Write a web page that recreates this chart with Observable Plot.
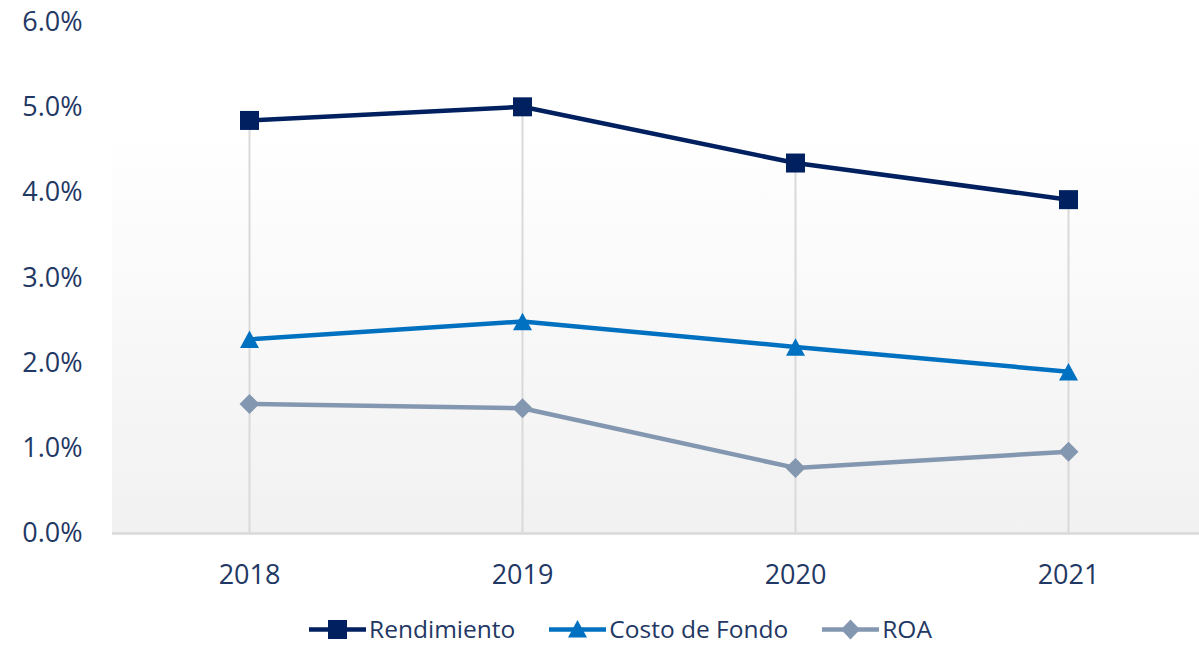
<!DOCTYPE html>
<html>
<head>
<meta charset="utf-8">
<script src="https://cdn.jsdelivr.net/npm/d3@7"></script>
<script src="https://cdn.jsdelivr.net/npm/@observablehq/plot@0.6"></script>
<style>
  html, body { margin: 0; padding: 0; background: #fff; overflow: hidden; }
  #chart { width: 1199px; height: 612px; overflow: hidden; }
  #chart svg { display: block; }
  .legend { display: flex; justify-content: center; align-items: center; height: 34px; line-height: 34px; margin-top: 0; margin-left: 42px;
            font-family: "Open Sans", sans-serif; font-size: 24.5px; color: #1f3864; }
  .legend .item { display: flex; align-items: center; margin: 0 17px; }
  .legend svg { margin-right: 3px; }
</style>
</head>
<body>
<div id="chart"></div>
<script>
const years = ["2018", "2019", "2020", "2021"];
const seriesNames = ["Rendimiento", "Costo de Fondo", "ROA"];
const rendimiento = [4.85, 5.01, 4.35, 3.92];
const costoFondo = [2.28, 2.49, 2.19, 1.90];
const roa = [1.52, 1.47, 0.77, 0.96];
const yTicks = [0, 1, 2, 3, 4, 5, 6];
const colors = ["#002060", "#0070C0", "#8497B0"];
const plotAreaTop = 4.73;

const valuesBySeries = [rendimiento, costoFondo, roa];
const data = [];
seriesNames.forEach((s, i) => years.forEach((y, j) => data.push({series: s, year: y, value: valuesBySeries[i][j]})));
const drops = years.map((y, j) => ({year: y, top: d3.max(valuesBySeries, v => v[j])}));

const squareSym = {draw(ctx) { const s = 9.5; ctx.rect(-s, -s, 2 * s, 2 * s); }};
const triSym = {draw(ctx) { const w = 9.5, h = 8.8; ctx.moveTo(0, -h); ctx.lineTo(w, h); ctx.lineTo(-w, h); ctx.closePath(); }};
const diaSym = {draw(ctx) { const s = 10; ctx.moveTo(0, -s); ctx.lineTo(s, 0); ctx.lineTo(0, s); ctx.lineTo(-s, 0); ctx.closePath(); }};
const symbols = [squareSym, triSym, diaSym];

function background(index, scales, values, dimensions) {
  const ns = "http://www.w3.org/2000/svg";
  const g = document.createElementNS(ns, "g");
  const defs = document.createElementNS(ns, "defs");
  defs.innerHTML = '<linearGradient id="bgGrad" x1="0" y1="0" x2="0" y2="1">' +
    '<stop offset="0" stop-color="#ffffff"/><stop offset="1" stop-color="#f1f1f1"/></linearGradient>';
  g.appendChild(defs);
  const r = document.createElementNS(ns, "rect");
  const yTop = scales.y(plotAreaTop), yBot = scales.y(0);
  r.setAttribute("x", dimensions.marginLeft);
  r.setAttribute("width", dimensions.width - dimensions.marginLeft - dimensions.marginRight);
  r.setAttribute("y", yTop);
  r.setAttribute("height", yBot - yTop);
  r.setAttribute("fill", "url(#bgGrad)");
  g.appendChild(r);
  return g;
}

const chart = Plot.plot({
  width: 1199,
  height: 612,
  marginLeft: 112,
  marginRight: -5,
  marginTop: 22,
  marginBottom: 79,
  style: {fontFamily: "'Open Sans', sans-serif", color: "#1f3864", background: "#fff", overflow: "hidden"},
  x: {type: "point", domain: years, padding: 0.5, label: null},
  y: {domain: [0, 6], label: null},
  color: {domain: seriesNames, range: colors},
  marks: [
    background,
    Plot.ruleX(drops, {x: "year", y1: 0, y2: "top", stroke: "#d9d9d9", strokeWidth: 2}),
    Plot.ruleY([0], {stroke: "#d9d9d9", strokeWidth: 2.5}),
    Plot.axisY({ticks: yTicks, tickSize: 0, tickPadding: 30, tickFormat: d => d.toFixed(1) + "%", fontSize: 27, fill: "#1f3864"}),
    Plot.axisX({tickSize: 0, tickPadding: 31, fontSize: 27, fill: "#1f3864"}),
    ...seriesNames.map((s, i) => Plot.line(data.filter(d => d.series === s), {x: "year", y: "value", stroke: colors[i], strokeWidth: 4.5})),
    ...seriesNames.map((s, i) => Plot.dot(data.filter(d => d.series === s), {x: "year", y: "value", fill: colors[i], stroke: "none", symbol: symbols[i], r: 9}))
  ]
});
document.getElementById("chart").appendChild(chart);

// Legend
const legend = document.createElement("div");
legend.className = "legend";
const legendPaths = [
  '<rect x="19" y="1" width="19" height="19" fill="C"/>',
  '<path d="M28.5 1 L38 18.6 L19 18.6 Z" fill="C"/>',
  '<path d="M28.5 0.5 L38 10.5 L28.5 20.5 L19 10.5 Z" fill="C"/>'
];
seriesNames.forEach((s, i) => {
  const item = document.createElement("div");
  item.className = "item";
  item.innerHTML = `<svg width="57" height="21" viewBox="0 0 57 21"><line x1="0" y1="10.5" x2="57" y2="10.5" stroke="${colors[i]}" stroke-width="4.5"/>${legendPaths[i].replace("C", colors[i])}</svg><span>${s}</span>`;
  legend.appendChild(item);
});
document.body.appendChild(legend);
</script>
</body>
</html>
